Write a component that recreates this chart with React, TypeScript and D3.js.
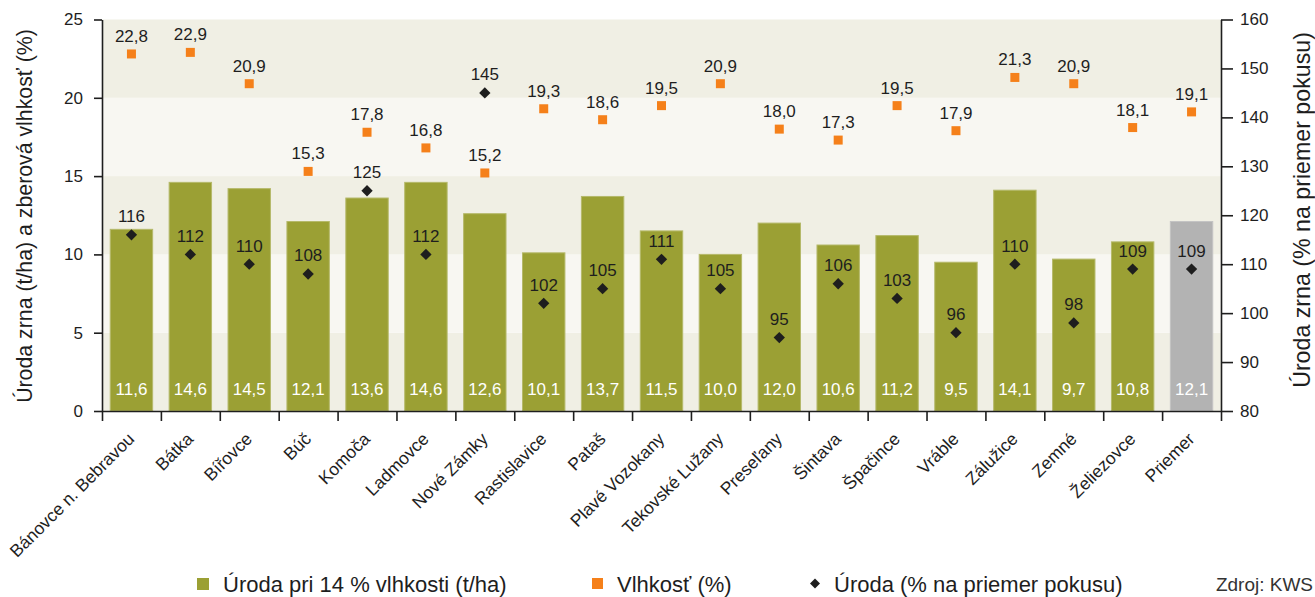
import React, { useEffect, useRef } from "react";
import * as d3 from "d3";

const categories = [
  "Bánovce n. Bebravou", "Bátka", "Bířovce", "Búč", "Komoča", "Ladmovce",
  "Nové Zámky", "Rastislavice", "Pataš", "Plavé Vozokany", "Tekovské Lužany",
  "Preseľany", "Šintava", "Špačince", "Vráble", "Zálužice", "Zemné",
  "Želiezovce", "Priemer",
];
// bar heights as drawn
const yieldBars = [11.6, 14.6, 14.2, 12.1, 13.6, 14.6, 12.6, 10.1, 13.7, 11.5, 10.0, 12.0, 10.6, 11.2, 9.5, 14.1, 9.7, 10.8, 12.1];
// printed bar labels
const yieldLabels = ["11,6", "14,6", "14,5", "12,1", "13,6", "14,6", "12,6", "10,1", "13,7", "11,5", "10,0", "12,0", "10,6", "11,2", "9,5", "14,1", "9,7", "10,8", "12,1"];
const moisture = [22.8, 22.9, 20.9, 15.3, 17.8, 16.8, 15.2, 19.3, 18.6, 19.5, 20.9, 18.0, 17.3, 19.5, 17.9, 21.3, 20.9, 18.1, 19.1];
const relYield = [116, 112, 110, 108, 125, 112, 145, 102, 105, 111, 105, 95, 106, 103, 96, 110, 98, 109, 109];
const leftTicks = [0, 5, 10, 15, 20, 25];
const rightTicks = [80, 90, 100, 110, 120, 130, 140, 150, 160];

const FONT = "'Liberation Sans', Arial, Helvetica, sans-serif";
const OLIVE = "#9ba034";
const GRAY = "#b3b3b3";
const ORANGE = "#f5801a";
const INK = "#1e1e1e";

const fmt = (v: number) => v.toFixed(1).replace(".", ",");

const App = () => {
  const svgRef = useRef<SVGSVGElement | null>(null);

  useEffect(() => {
    const width = 1315;
    const height = 597;
    const left = 102;
    const right = 1221;
    const top = 19.5;
    const bottom = 411;

    const root = d3.select(svgRef.current);
    root.selectAll("*").remove();
    const svg = root.attr("width", width).attr("height", height).style("font-family", FONT);

    const x = d3.scaleBand<string>().domain(categories).range([left, right]).paddingInner(0.28).paddingOuter(0.14);
    const xEdge = d3.scaleLinear().domain([0, categories.length]).range([left, right]);
    const yL = d3.scaleLinear().domain([0, 25]).range([bottom, top]);
    const yR = d3.scaleLinear().domain([80, 160]).range([bottom, top]);
    const cx = (d: string) => (x(d) as number) + x.bandwidth() / 2;

    // background bands
    svg.append("g")
      .selectAll("rect")
      .data(d3.range(5))
      .join("rect")
      .attr("x", left)
      .attr("width", right - left)
      .attr("y", (i) => yL(i * 5 + 5))
      .attr("height", (i) => yL(i * 5) - yL(i * 5 + 5))
      .attr("fill", (i) => (i % 2 === 0 ? "#f0efe4" : "#f8f7f2"));

    // bars
    svg.append("g")
      .selectAll("rect")
      .data(categories)
      .join("rect")
      .attr("x", (d) => x(d) as number)
      .attr("width", x.bandwidth())
      .attr("y", (d, i) => yL(yieldBars[i]))
      .attr("height", (d, i) => bottom - yL(yieldBars[i]))
      .attr("fill", (d, i) => (i === categories.length - 1 ? GRAY : OLIVE))
      .attr("stroke", (d, i) => (i === categories.length - 1 ? "#c4c4c4" : "#b5b96a"))
      .attr("stroke-width", 1);

    // bar value labels
    svg.append("g")
      .selectAll("text")
      .data(categories)
      .join("text")
      .attr("x", cx)
      .attr("y", bottom - 16)
      .attr("text-anchor", "middle")
      .attr("fill", "#fff")
      .attr("font-size", 17)
      .text((d, i) => yieldLabels[i]);

    // moisture squares
    svg.append("g")
      .selectAll("rect")
      .data(categories)
      .join("rect")
      .attr("x", (d) => cx(d) - 4.5)
      .attr("y", (d, i) => yL(moisture[i]) - 4.5)
      .attr("width", 9)
      .attr("height", 9)
      .attr("fill", ORANGE);

    svg.append("g")
      .selectAll("text")
      .data(categories)
      .join("text")
      .attr("x", cx)
      .attr("y", (d, i) => yL(moisture[i]) - 12)
      .attr("text-anchor", "middle")
      .attr("fill", INK)
      .attr("font-size", 17)
      .text((d, i) => fmt(moisture[i]));

    // relative yield diamonds
    const diamond = d3.symbol().type(d3.symbolSquare).size(64);
    svg.append("g")
      .selectAll("path")
      .data(categories)
      .join("path")
      .attr("d", diamond)
      .attr("transform", (d, i) => `translate(${cx(d)},${yR(relYield[i])}) rotate(45)`)
      .attr("fill", INK);

    svg.append("g")
      .selectAll("text")
      .data(categories)
      .join("text")
      .attr("x", cx)
      .attr("y", (d, i) => yR(relYield[i]) - 12.5)
      .attr("text-anchor", "middle")
      .attr("fill", INK)
      .attr("font-size", 17)
      .text((d, i) => String(relYield[i]));

    // axes
    const styleAxis = (g: any) => {
      g.selectAll("path, line").attr("stroke", INK).attr("stroke-width", 1.6);
      g.selectAll("text").attr("fill", INK).attr("font-size", 17).attr("font-family", FONT);
    };

    svg.append("g")
      .attr("transform", `translate(${left},0)`)
      .call(d3.axisLeft(yL).tickValues(leftTicks).tickSize(8).tickSizeOuter(0).tickPadding(11).tickFormat((d) => String(d)))
      .call(styleAxis);

    svg.append("g")
      .attr("transform", `translate(${right},0)`)
      .call(d3.axisRight(yR).tickValues(rightTicks).tickSize(12).tickSizeOuter(0).tickPadding(7).tickFormat((d) => String(d)))
      .call(styleAxis);

    svg.append("g")
      .attr("transform", `translate(0,${bottom})`)
      .call(d3.axisBottom(xEdge).tickValues(d3.range(categories.length + 1)).tickSize(10).tickSizeOuter(0).tickFormat(() => ""))
      .call(styleAxis);

    // category labels
    svg.append("g")
      .selectAll("text")
      .data(categories)
      .join("text")
      .attr("transform", (d) => `translate(${cx(d) + 4},${bottom + 29}) rotate(-45)`)
      .attr("text-anchor", "end")
      .attr("fill", INK)
      .attr("font-size", 17.5)
      .text((d) => d);

    // axis titles
    svg.append("text")
      .attr("transform", `translate(32,${216}) rotate(-90)`)
      .attr("text-anchor", "middle")
      .attr("fill", INK)
      .attr("font-size", 21.3)
      .text("Úroda zrna (t/ha) a zberová vlhkosť (%)");

    svg.append("text")
      .attr("transform", `translate(1310,${210}) rotate(-90)`)
      .attr("text-anchor", "middle")
      .attr("fill", INK)
      .attr("font-size", 23.2)
      .text("Úroda zrna (% na priemer pokusu)");

    // legend
    const legend = svg.append("g").attr("font-size", 22).attr("fill", INK);
    legend.append("rect").attr("x", 197).attr("y", 578).attr("width", 12).attr("height", 12).attr("fill", OLIVE);
    legend.append("text").attr("x", 223).attr("y", 592).text("Úroda pri 14 % vlhkosti (t/ha)");
    legend.append("rect").attr("x", 592).attr("y", 578).attr("width", 11).attr("height", 11).attr("fill", ORANGE);
    legend.append("text").attr("x", 617).attr("y", 592).text("Vlhkosť (%)");
    legend.append("path")
      .attr("d", d3.symbol().type(d3.symbolSquare).size(50)())
      .attr("transform", "translate(815,583.5) rotate(45)")
      .attr("fill", INK);
    legend.append("text").attr("x", 834).attr("y", 592).text("Úroda (% na priemer pokusu)");
    legend.append("text").attr("x", 1313).attr("y", 591).attr("text-anchor", "end").attr("font-size", 19).attr("fill", "#333").text("Zdroj: KWS");
  }, []);

  return (
    <div style={{ position: "fixed", left: 0, top: 0, width: 1315, height: 597, overflow: "hidden", background: "#fff" }}>
      <svg ref={svgRef} style={{ display: "block" }} />
    </div>
  );
};

export default App;
